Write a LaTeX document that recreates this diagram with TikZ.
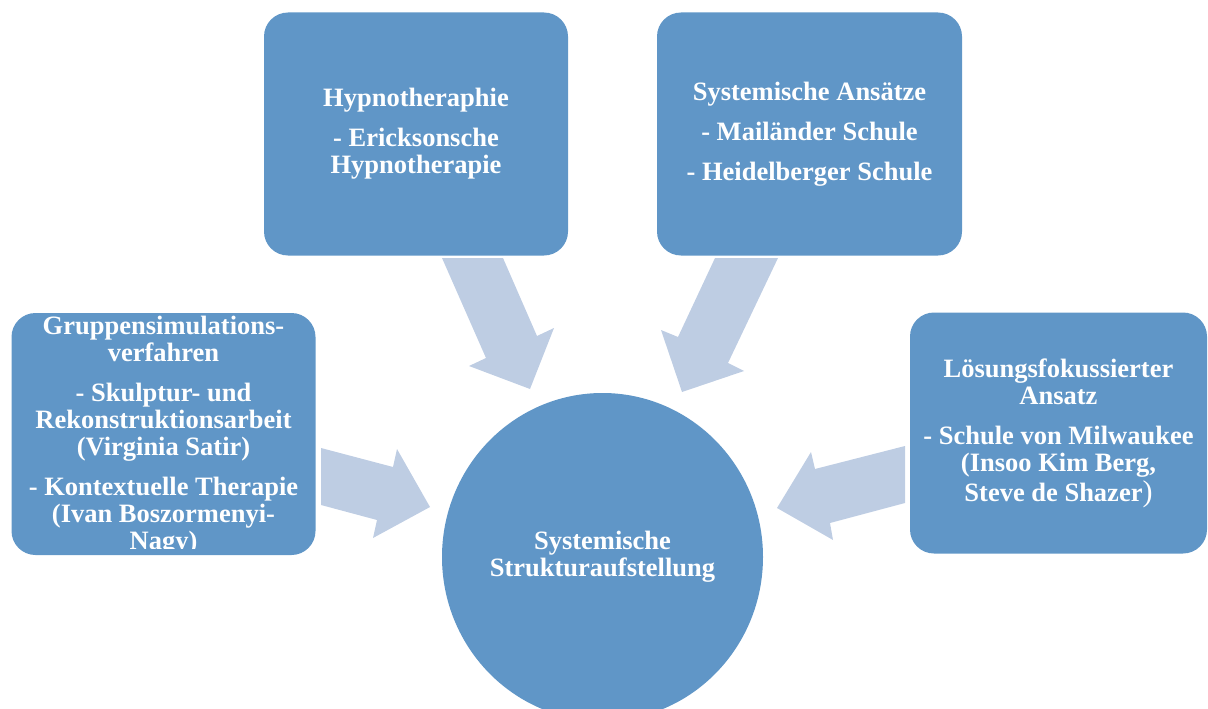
\documentclass[tikz,border=0pt]{standalone}
\usepackage{fontspec}
\setmainfont{Liberation Serif}
\usetikzlibrary{positioning, shapes.geometric}

\definecolor{boxblue}{RGB}{96,150,199}
\definecolor{arrowblue}{RGB}{190,205,227}

\begin{document}
\begin{tikzpicture}[
    x=1pt, y=-1pt,          % Pixelkoordinaten, y nach unten
    box/.style={fill=boxblue, rounded corners=24pt, minimum width=304pt,
                minimum height=243pt, inner sep=0pt},
    boxtext/.style={text=white, font=\fontsize{26.5}{27}\selectfont\bfseries,
                    align=center, inner sep=0pt},
    blockarrow/.style={fill=arrowblue}
]

    % --- 0. Bildausschnitt ---
    \clip (0,0) rectangle (1208,709);

    % --- 1. Blockpfeile ---
    % 【oben links】
    \fill [blockarrow] (442,258) -- (503,258) -- (537,336) -- (554,328)
        -- (530,389) -- (469,366) -- (486,358) -- cycle;
    % 【oben rechts】
    \fill [blockarrow] (715,258) -- (778,258) -- (728,363) -- (744,371)
        -- (682,392) -- (661,330) -- (678,337) -- cycle;
    % 【links】
    \fill [blockarrow] (321,448) -- (393,467) -- (397,449) -- (430,507)
        -- (373,538) -- (377,520) -- (321,505) -- cycle;
    % 【rechts】
    \fill [blockarrow] (905,446) -- (905,503) -- (830,523) -- (833,540)
        -- (777,508) -- (811,452) -- (815,469) -- cycle;

    % --- 2. Kästen ---
    \node [box, boxtext] (hypno) at (416,134) {%
        Hypnotheraphie\\[13pt]
        - Ericksonsche\\
        Hypnotherapie};

    \node [box, boxtext, minimum width=305pt] (system) at (809.5,134) {%
        Systemische Ansätze\\[13pt]
        - Mailänder Schule\\[13pt]
        - Heidelberger Schule};

    \node [box, boxtext, minimum width=297pt, minimum height=241pt] (loesung) at (1058.5,433) {%
        Lösungsfokussierter\\
        Ansatz\\[13pt]
        - Schule von Milwaukee\\
        (Insoo Kim Berg,\\[3pt]
        Steve de Shazer{\mdseries\fontsize{30}{27}\selectfont)}};

    % 【links: Text läuft über den Kasten hinaus】
    \node [box, minimum height=242pt] (gruppe) at (163.5,434) {};
    \begin{scope}
        \clip (12,300) rectangle (316,548);
        \node [boxtext] (gruppetext) at (163.5,436) {%
            Gruppensimulations-\\
            verfahren\\[13pt]
            - Skulptur- und\\
            Rekonstruktionsarbeit\\
            (Virginia Satir)\\[13pt]
            - Kontextuelle Therapie\\
            (Ivan Boszormenyi-\\
            Nagy)};
    \end{scope}

    % --- 3. Kreis in der Mitte ---
    \node [ellipse, fill=boxblue, minimum width=321pt, minimum height=328pt,
           inner sep=0pt, boxtext] (struktur) at (602.5,557) {%
        Systemische\\
        Strukturaufstellung};

\end{tikzpicture}
\end{document}
